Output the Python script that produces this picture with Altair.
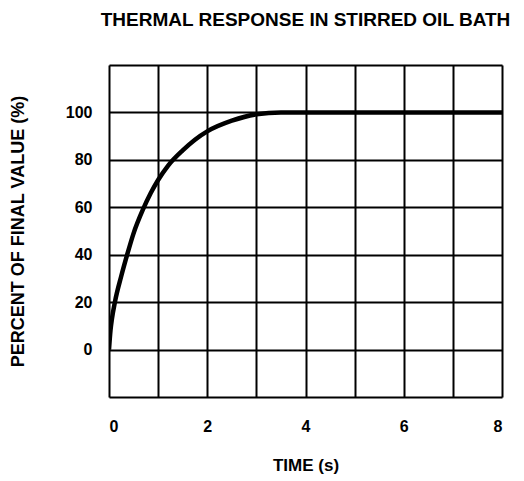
import altair as alt
import pandas as pd

time_s = [0, 0.03, 0.06, 0.12, 0.25, 0.37, 0.5, 0.69, 0.85, 1.0, 1.2, 1.5, 1.75, 2.0, 2.5, 3.0, 3.5, 4, 5, 6, 7, 8]
percent = [0, 8, 13, 20, 31, 40, 49, 59, 66, 71.5, 77.5, 84, 88.5, 92, 96.5, 99.2, 100, 100, 100, 100, 100, 100]

x_grid = [0, 1, 2, 3, 4, 5, 6, 7, 8]
y_grid = [-20, 0, 20, 40, 60, 80, 100, 120]

df = pd.DataFrame({"t": time_s, "p": percent})
FONT = "Liberation Sans"

x_scale = alt.Scale(domain=[0, 8], nice=False, zero=False)
y_scale = alt.Scale(domain=[-20, 120], nice=False, zero=False)

curve = alt.Chart(df).mark_line(color="black", strokeWidth=4.5, interpolate="monotone", clip=True).encode(
    x=alt.X("t:Q", scale=x_scale, title="TIME (s)",
            axis=alt.Axis(values=x_grid, labelExpr="datum.value % 2 == 0 ? datum.label : ''",
                          grid=True, gridColor="black", gridWidth=2,
                          gridOpacity=1, ticks=False, domain=False, labelFont=FONT, labelFontSize=16,
                          labelFontWeight="bold", labelColor="black", labelPadding=21,
                          titleFont=FONT, titleFontSize=17, titleFontWeight="bold", titleColor="black",
                          titlePadding=23)),
    y=alt.Y("p:Q", scale=y_scale, title="PERCENT OF FINAL VALUE (%)",
            axis=alt.Axis(values=y_grid, labelExpr="(datum.value < 0 || datum.value > 100) ? '' : datum.label",
                          grid=True, gridColor="black", gridWidth=2,
                          gridOpacity=1, ticks=False, domain=False, labelFont=FONT, labelFontSize=16,
                          labelFontWeight="bold", labelColor="black", labelPadding=17,
                          titleFont=FONT, titleFontSize=18, titleFontWeight="bold", titleColor="black",
                          titlePadding=38)),
)

chart = curve.properties(
    width=393,
    height=332,
    title=alt.TitleParams("THERMAL RESPONSE IN STIRRED OIL BATH", font=FONT, fontSize=19,
                          fontWeight="bold", color="black", anchor="middle", offset=35),
    autosize=alt.AutoSizeParams(type="none"),
    padding={"left": 101, "top": 57, "right": 14, "bottom": 90},
).configure_view(stroke="black", strokeWidth=4).configure(background="white")

chart.save("out.html", embed_options={"renderer": "svg", "actions": False})
